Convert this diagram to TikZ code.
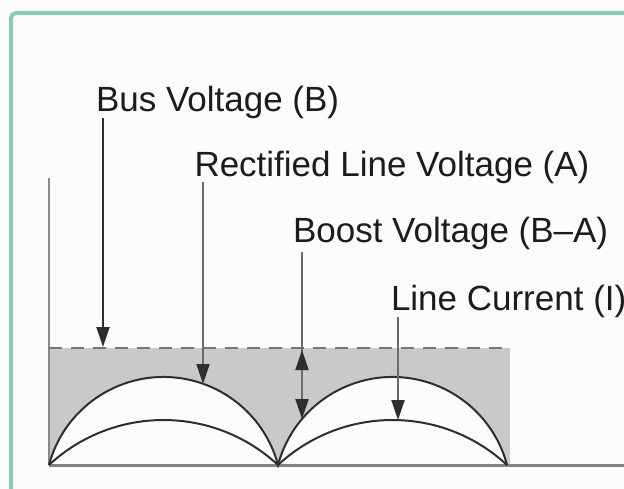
\documentclass[tikz,border=0pt]{standalone}
\usepackage{fontspec}
\setmainfont{Liberation Sans}
\usetikzlibrary{arrows.meta}
\definecolor{bgc}{HTML}{FCFCFA}
\definecolor{framec}{HTML}{88CDB2}
\definecolor{boostgray}{HTML}{C9CAC8}
\definecolor{curvec}{HTML}{2E2E2E}
\definecolor{axisc}{HTML}{8A8A8A}
\definecolor{leadc}{HTML}{6A6A6A}
\definecolor{txtc}{HTML}{1C1C1C}
\tikzset{
  lbl/.style={anchor=base west, inner sep=0pt, outer sep=0pt, font=\fontsize{35}{40}\selectfont, text=txtc},
  tipstyle/.style={-{Triangle[length=20pt,width=13pt,color=curvec]}},
  ptr/.style={draw=leadc, line width=2pt, tipstyle},
  arcline/.style={draw=curvec, line width=2pt},
  axisline/.style={draw=axisc, line width=2pt},
  busline/.style={draw=axisc!85!black, line width=2.6pt, dash pattern=on 13pt off 9pt}
}
\begin{document}
\begin{tikzpicture}[x=1pt,y=-1pt]
\useasboundingbox (0,0) rectangle (624,489);
\clip (0,0) rectangle (624,489);
\fill[bgc] (0,0) rectangle (624,489);
\draw[framec, line width=4pt, rounded corners=5pt] (11,13) rectangle (690,570);

% shaded boost area
\fill[boostgray] (49,348) rectangle (510,465);
\fill[bgc] (49,465) arc[start angle=194.9, end angle=345.1, radius=118.5]
  arc[start angle=194.9, end angle=345.1, radius=118.5] -- cycle;

% axes
\coordinate (o) at (49,465);
\coordinate (ytop) at (49,178);
\coordinate (xend) at (630,465);
\draw[axisline] (ytop) -- (o);
\draw[draw=axisc!95!black, line width=3pt] (o) -- (xend);

% dashed bus voltage
\coordinate (bl) at (49,348);
\coordinate (br) at (510,348);
\draw[busline] (bl) -- (br);

% rectified line voltage arcs
\draw[arcline] (49,465) arc[start angle=194.9, end angle=345.1, radius=118.5]
  arc[start angle=194.9, end angle=345.1, radius=118.5];
% line current arcs
\draw[arcline] (49,465) arc[start angle=227.1, end angle=312.9, radius=168.2]
  arc[start angle=227.1, end angle=312.9, radius=168.2];

% labels
\node[lbl] (bus) at (96,111.5) {Bus Voltage (B)};
\node[lbl] (rect) at (194.5,177) {Rectified Line Voltage (A)};
\node[lbl] (boost) at (293,243) {Boost Voltage (B–A)};
\node[lbl] (cur) at (391,310) {Line Current (I)};

% leader arrows
\coordinate (busS) at (103,118);
\coordinate (busE) at (103,347);
\coordinate (rectS) at (203,182);
\coordinate (rectE) at (203,384);
\coordinate (boostS) at (302,252);
\coordinate (boostE) at (302,419);
\coordinate (boostU) at (302,374);
\coordinate (boostT) at (302,350);
\coordinate (curS) at (398,317);
\coordinate (curE) at (398,420);

\draw[ptr, draw=curvec] (busS) -- (busE);
\draw[ptr] (rectS) -- (rectE);
\draw[ptr] (boostS) -- (boostE);
\draw[ptr] (boostU) -- (boostT);
\draw[ptr] (curS) -- (curE);
\end{tikzpicture}
\end{document}
